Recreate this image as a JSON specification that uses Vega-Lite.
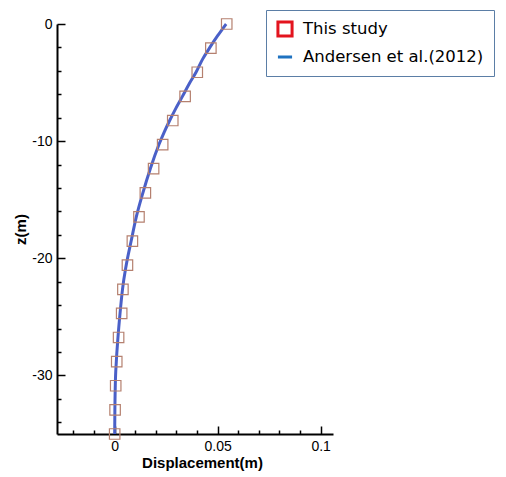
{
  "$schema": "https://vega.github.io/schema/vega-lite/v6.json",
  "width": 276,
  "height": 410,
  "autosize": {"type": "none"},
  "padding": {"left": 57, "top": 24, "right": 173, "bottom": 43},
  "background": "white",
  "config": {
    "view": {"stroke": null},
    "axis": {
      "grid": false,
      "domainColor": "black",
      "domainWidth": 2,
      "tickColor": "black",
      "tickWidth": 1.5,
      "labelFont": "Liberation Sans",
      "labelFontSize": 14,
      "labelColor": "black",
      "titleFont": "Liberation Sans",
      "titleFontSize": 15,
      "titleFontWeight": "bold",
      "titleColor": "black"
    }
  },
  "datasets": {
    "study": [
      {"disp": 0.0544, "z": 0},
      {"disp": 0.0467, "z": -2.06},
      {"disp": 0.0401, "z": -4.12},
      {"disp": 0.0342, "z": -6.18},
      {"disp": 0.0282, "z": -8.24},
      {"disp": 0.0233, "z": -10.29},
      {"disp": 0.0189, "z": -12.35},
      {"disp": 0.0149, "z": -14.41},
      {"disp": 0.0118, "z": -16.47},
      {"disp": 0.0086, "z": -18.53},
      {"disp": 0.0062, "z": -20.59},
      {"disp": 0.0040, "z": -22.65},
      {"disp": 0.0034, "z": -24.71},
      {"disp": 0.0019, "z": -26.76},
      {"disp": 0.0010, "z": -28.82},
      {"disp": 0.0005, "z": -30.88},
      {"disp": 0.0002, "z": -32.94},
      {"disp": 0.0000, "z": -35}
    ],
    "andersen": [
      {"disp": 0.0541, "z": 0},
      {"disp": 0.0500, "z": -1},
      {"disp": 0.0460, "z": -2.06},
      {"disp": 0.0427, "z": -3},
      {"disp": 0.0395, "z": -4.12},
      {"disp": 0.0362, "z": -5.1},
      {"disp": 0.0329, "z": -6.18},
      {"disp": 0.0297, "z": -7.2},
      {"disp": 0.0267, "z": -8.24},
      {"disp": 0.0240, "z": -9.25},
      {"disp": 0.0215, "z": -10.29},
      {"disp": 0.0173, "z": -12.35},
      {"disp": 0.0137, "z": -14.41},
      {"disp": 0.0105, "z": -16.47},
      {"disp": 0.0080, "z": -18.53},
      {"disp": 0.0056, "z": -20.59},
      {"disp": 0.0038, "z": -22.65},
      {"disp": 0.0026, "z": -24.71},
      {"disp": 0.0016, "z": -26.76},
      {"disp": 0.0008, "z": -28.82},
      {"disp": 0.0003, "z": -30.88},
      {"disp": 0.0001, "z": -32.94},
      {"disp": 0.0000, "z": -35}
    ],
    "legend": [
      {"series": "This study"},
      {"series": "Andersen et al.(2012)"}
    ]
  },
  "layer": [
    {
      "data": {"name": "andersen"},
      "mark": {"type": "line", "color": "#4a60c8", "strokeWidth": 3, "interpolate": "monotone", "clip": false},
      "encoding": {
        "x": {
          "field": "disp", "type": "quantitative",
          "scale": {"domain": [-0.028, 0.106], "nice": false, "zero": false},
          "axis": {"orient": "bottom", "values": [0, 0.05, 0.1], "format": "~g", "tickSize": -8, "labelPadding": 13, "title": "Displacement(m)", "titleX": 145, "titlePadding": 2}
        },
        "y": {
          "field": "z", "type": "quantitative",
          "scale": {"domain": [-35, 0], "nice": false, "zero": false},
          "axis": {"orient": "left", "values": [0, -10, -20, -30], "tickSize": -8, "labelPadding": 13, "labelExpr": "replace(datum.label, '−', '-')", "title": "z(m)", "titleX": -29}
        },
        "order": {"field": "z", "type": "quantitative"}
      }
    },
    {
      "data": {"name": "study"},
      "mark": {"type": "point", "shape": "square", "filled": false, "stroke": "#b5806f", "strokeWidth": 1.2, "size": 110, "opacity": 1, "clip": false},
      "encoding": {
        "x": {
          "field": "disp", "type": "quantitative",
          "axis": {"orient": "bottom", "values": [-0.02, -0.01, 0.01, 0.02, 0.03, 0.04, 0.06, 0.07, 0.08, 0.09], "tickSize": -4, "labels": false, "domain": false, "title": null}
        },
        "y": {
          "field": "z", "type": "quantitative",
          "axis": {"orient": "left", "values": [-2, -4, -6, -8, -12, -14, -16, -18, -22, -24, -26, -28, -32, -34], "tickSize": -4, "labels": false, "domain": false, "title": null}
        }
      }
    },
    {
      "data": {"name": "legend"},
      "mark": {"type": "point", "filled": false, "strokeWidth": 3, "opacity": 1},
      "encoding": {
        "x": {"field": "disp", "type": "quantitative", "axis": null},
        "y": {"field": "z", "type": "quantitative", "axis": null},
        "color": {
          "field": "series", "type": "nominal",
          "scale": {"domain": ["This study", "Andersen et al.(2012)"], "range": ["#e3141e", "#1f72c0"]},
          "legend": {
            "orient": "none", "legendX": 209, "legendY": -14,
            "title": null,
            "labelFont": "DejaVu Sans", "labelFontSize": 16.5, "labelColor": "black",
            "symbolSize": 200, "symbolStrokeWidth": 3, "symbolOpacity": 1,
            "labelOffset": 9, "rowPadding": 5, "padding": 10,
            "strokeColor": "#5b7ea6", "fillColor": "white", "labelLimit": 300
          }
        },
        "shape": {
          "field": "series", "type": "nominal",
          "scale": {"domain": ["This study", "Andersen et al.(2012)"], "range": ["square", "stroke"]},
          "legend": null
        }
      }
    }
  ],
  "resolve": {"axis": {"x": "independent", "y": "independent"}}
}
